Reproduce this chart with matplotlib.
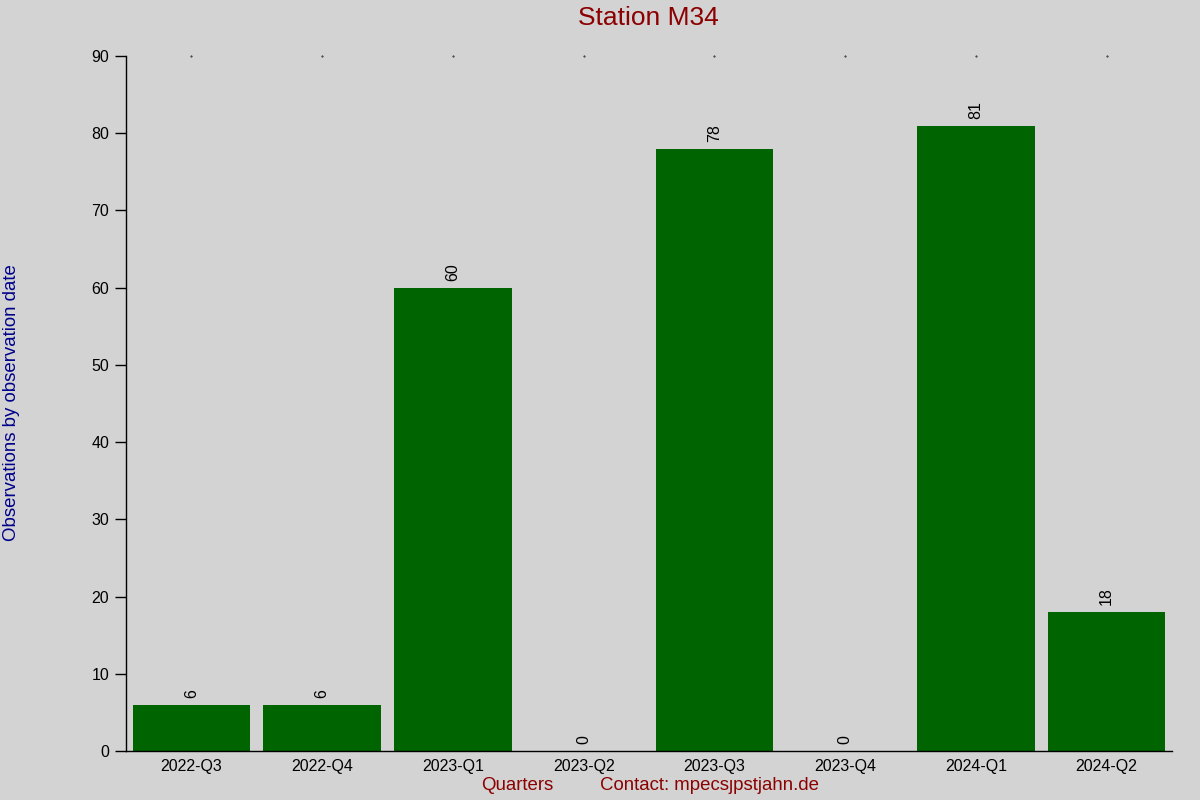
import numpy as np
import matplotlib as mpl
mpl.use('Agg')
import matplotlib.pyplot as plt

#------------------ Data ----------------------
quarters = ['2022-Q3', '2022-Q4', '2023-Q1', '2023-Q2',
            '2023-Q3', '2023-Q4', '2024-Q1', '2024-Q2']
counts = [6, 6, 60, 0, 78, 0, 81, 18]

bg = '#d3d3d3'
plt.rcParams['font.family'] = ['Liberation Sans', 'DejaVu Sans']

#------------------ Figure Setup ----------------------
fig = plt.figure(figsize=(12, 8), dpi=100, facecolor=bg)
ax = fig.add_axes([126/1200, 1-751/800, (1172-126)/1200, (751-56)/800])
ax.set_facecolor(bg)

x = np.arange(len(quarters))
ax.bar(x, counts, width=0.9, color='#006400')
for xi, v in zip(x, counts):
    ax.annotate(str(v), (xi, v), xytext=(0, 5), textcoords='offset points',
                rotation=90, ha='center', va='bottom', fontsize=11.5)

ax.set_xlim(-0.5, len(quarters) - 0.5)
ax.set_ylim(0, 90)
ax.set_yticks(np.arange(0, 91, 10))
ax.set_xticks(x)
ax.set_xticklabels(quarters)
ax.tick_params(axis='y', length=8, width=1, labelsize=11.5, pad=4)
ax.tick_params(axis='x', length=0, labelsize=11.5, pad=6)

# tiny dots at the top of each category
for xi in x:
    ax.plot([xi], [90], marker='.', ms=0.8, color='black', clip_on=False)

for s in ['top', 'right']:
    ax.spines[s].set_visible(False)
ax.spines['left'].set_linewidth(1)
ax.spines['bottom'].set_linewidth(1)

#Label setup
fig.text(648/1200, 1-18/800, 'Station M34', color='#8b0000', fontsize=19,
         ha='center', va='center')
fig.text(12/1200, 1-403/800, 'Observations by observation date', color='#00008b',
         fontsize=13.4, rotation=90, ha='center', va='center')
fig.text(517/1200, 1-786/800, 'Quarters', color='#8b0000', fontsize=13.4,
         ha='center', va='center')
fig.text(710/1200, 1-786/800, 'Contact: mpecs\u0237pstjahn.de', color='#8b0000',
         fontsize=13.4, ha='center', va='center')

plt.savefig('out.png', dpi=100, facecolor=bg)
